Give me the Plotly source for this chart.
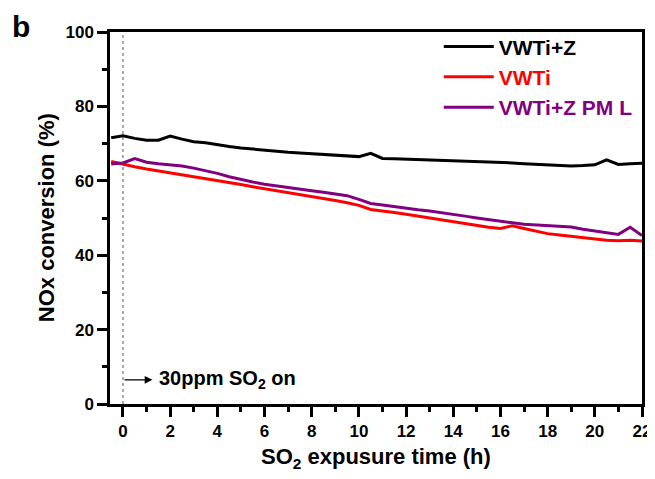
import plotly.graph_objects as go

time_h = [-0.5, 0, 0.5, 1, 1.5, 2, 2.5, 3, 3.5, 4, 4.5, 5, 5.5, 6, 6.5, 7, 7.5, 8, 8.5, 9, 9.5, 10,
          10.5, 11, 11.5, 12, 12.5, 13, 13.5, 14, 14.5, 15, 15.5, 16, 16.5, 17, 17.5, 18, 18.5, 19,
          19.5, 20, 20.5, 21, 21.5, 22]

vwti_z = [71.6, 72.1, 71.4, 70.9, 70.9, 72.0, 71.2, 70.5, 70.2, 69.6, 69.2, 68.8, 68.5, 68.1, 67.8, 67.7,
          67.5, 67.3, 67.1, 66.9, 66.7, 66.5, 67.4, 66.0, 65.9, 65.8, 65.7, 65.6, 65.5, 65.4, 65.3, 65.1,
          65.0, 64.9, 64.8, 64.6, 64.4, 64.3, 64.2, 64.0, 64.1, 64.3, 65.6, 64.4, 64.6, 64.7]

vwti = [65.2, 64.4, 63.8, 63.2, 62.7, 62.2, 61.7, 61.1, 60.6, 60.1, 59.5, 59.0, 58.4, 57.9, 57.3, 56.8,
        56.3, 55.8, 55.3, 54.7, 54.1, 53.4, 52.3, 52.0, 51.5, 51.0, 50.5, 49.9, 49.3, 48.9, 48.4, 47.9,
        47.5, 47.2, 47.9, 47.2, 46.5, 45.8, 45.4, 45.0, 44.7, 44.4, 44.0, 43.9, 44.0, 43.8]

vwti_z_pml = [64.5, 64.8, 66.0, 65.0, 64.6, 64.3, 64.0, 63.4, 62.8, 62.0, 61.1, 60.3, 59.7, 59.1, 58.6, 58.2,
              57.8, 57.3, 56.9, 56.5, 56.0, 55.0, 53.9, 53.5, 53.0, 52.6, 52.2, 51.9, 51.5, 51.0, 50.5, 50.0,
              49.5, 49.0, 48.7, 48.3, 48.1, 47.9, 47.8, 47.6, 47.0, 46.5, 45.9, 45.6, 47.5, 45.3]

series = [
    ("VWTi+Z", vwti_z, "#000000"),
    ("VWTi", vwti, "#ff0000"),
    ("VWTi+Z PM L", vwti_z_pml, "#800080"),
]

FONT = "Liberation Sans, Arial"

fig = go.Figure()
for name, vals, col in series:
    fig.add_trace(go.Scatter(
        x=time_h, y=vals, mode="lines",
        line=dict(color=col, width=3),
        name=f"<span style='color:{col}'>{name}</span>",
    ))

fig.add_shape(type="line", x0=0, x1=0, y0=0, y1=100, xref="x", yref="y",
              line=dict(color="#555555", width=1, dash="dot"))
fig.add_annotation(x=1.25, y=6.5, ax=0, ay=6.5, xref="x", yref="y", axref="x", ayref="y",
                   text="", showarrow=True, arrowhead=2, arrowsize=1.3, arrowwidth=1.2,
                   arrowcolor="black")
fig.add_annotation(x=1.45, y=6.5, xref="x", yref="y", xanchor="left", yanchor="middle",
                   text="30ppm SO<sub>2</sub> on", showarrow=False,
                   font=dict(size=20, color="black", family=FONT, weight="bold"))
fig.add_annotation(x=-0.167, y=1.062, xref="paper", yref="paper", xanchor="center", yanchor="top",
                   text="<b>b</b>", showarrow=False, borderpad=0,
                   font=dict(size=30, color="black", family=FONT))
# axis titles
fig.add_annotation(x=0.5, y=-0.145, xref="paper", yref="paper", xanchor="center", yanchor="middle",
                   text="<b>SO<sub>2</sub> expusure time (h)</b>", showarrow=False,
                   font=dict(size=22, color="black", family=FONT))
fig.add_annotation(x=-0.12, y=0.5, xref="paper", yref="paper", xanchor="center", yanchor="middle",
                   text="<b>NOx conversion (%)</b>", showarrow=False, textangle=-90,
                   font=dict(size=22, color="black", family=FONT))

axis_common = dict(
    showline=True, linecolor="black", linewidth=2.5, mirror=True,
    ticks="outside", tickwidth=2.5, ticklen=10, tickcolor="black",
    showgrid=False, zeroline=False, automargin=False,
    tickfont=dict(size=17, color="black", family=FONT, weight="bold"),
)

fig.update_xaxes(
    range=[-0.55, 22], tickmode="array", tickvals=list(range(0, 23, 2)),
    minor=dict(ticks="outside", tickvals=list(range(1, 22, 2)), ticklen=5, tickwidth=2.5, tickcolor="black"),
    **axis_common,
)
fig.update_yaxes(
    range=[0, 100], tickmode="array", tickvals=[0, 20, 40, 60, 80, 100],
    minor=dict(ticks="outside", tickvals=[10, 30, 50, 70, 90], ticklen=5, tickwidth=2.5, tickcolor="black"),
    **axis_common,
)

fig.update_layout(
    width=647, height=471,
    margin=dict(l=102, r=13, t=24, b=75),
    plot_bgcolor="white", paper_bgcolor="white",
    showlegend=True,
    legend=dict(x=0.618, y=1.015, xanchor="left", yanchor="top",
                bgcolor="rgba(0,0,0,0)", borderwidth=0,
                font=dict(size=21, family=FONT, weight="bold"),
                itemwidth=50),
)

fig.write_html("out.html")
